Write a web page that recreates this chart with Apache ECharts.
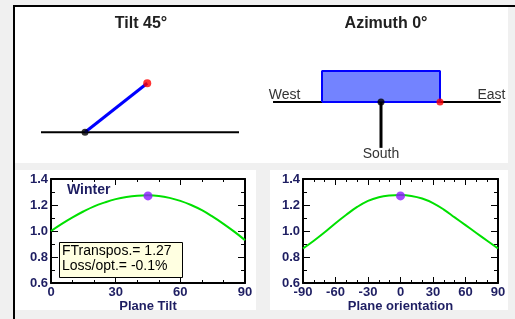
<!DOCTYPE html>
<html><head><meta charset="utf-8">
<script src="https://cdn.jsdelivr.net/npm/echarts@6/dist/echarts.min.js"></script>
<style>html,body{margin:0;padding:0;background:#f0f0f0;}#c{width:515px;height:319px;}</style>
</head><body><div id="c"></div>
<script>
// ---- data ----
const tiltDeg = [0,5,10,15,20,25,30,35,40,45,50,55,60,65,70,75,80,85,90];
const tiltFT  = [1.00,1.055,1.105,1.15,1.19,1.22,1.245,1.262,1.272,1.275,1.27,1.255,1.232,1.20,1.16,1.11,1.055,0.995,0.93];
const orientDeg = [-90,-80,-70,-60,-50,-40,-30,-20,-10,0,10,20,30,40,50,60,70,80,90];
const orientFT  = [0.865,0.925,0.99,1.06,1.125,1.185,1.232,1.26,1.273,1.277,1.27,1.25,1.215,1.165,1.105,1.045,0.985,0.925,0.865];
const tiltOpt = [45, 1.27];
const orientOpt = [0, 1.27];
const tiltTicks = [0,30,60,90];
const orientTicks = [-90,-60,-30,0,30,60,90];
const ftTicks = [0.6,0.8,1.0,1.2,1.4];
const tiltAngle = 45;
const azimuth = 0;
const season = 'Winter';
const fTranspos = '1.27';
const lossOpt = '-0.1%';
// diagram geometry (unit lengths)
const groundTilt = [[-0.5,0],[1.75,0]];
const groundAz = [[-1.83,0],[2.03,0]];
const southLine = [[0,0],[0,-1.48]];
const panelHalfWidth = 1, panelDepth = 1;

const rad = tiltAngle*Math.PI/180;
const panelTilt = [[0,0],[Math.cos(rad),Math.sin(rad)]];
const panelRect = [[-panelHalfWidth,0],[-panelHalfWidth,panelDepth],[panelHalfWidth,panelDepth],[panelHalfWidth,0],[-panelHalfWidth,0]];

const navy = '#1e1e62';
const FONT = '"Liberation Sans", Arial, sans-serif';

function plotX(idx, min, max, ticks, name, top) {
  return {
    type:'value', gridIndex: idx, min: min, max: max, interval: 30,
    position: top ? 'top' : 'bottom',
    name: top ? '' : name, nameLocation:'middle', nameGap: 16,
    nameTextStyle:{color:navy, fontSize:13, fontWeight:'bold', fontFamily:FONT},
    axisLine:{show:true, onZero:false, lineStyle:{color:'#000', width:2}},
    axisTick:{show:true, inside:true, length:6, lineStyle:{color:'#000', width:1}},
    minorTick:{show:true, splitNumber:3, length:3, lineStyle:{color:'#000', width:1}},
    axisLabel:{show:!top, margin:3, color:navy, fontSize:13, fontWeight:'bold', fontFamily:FONT,
      customValues: ticks},
    splitLine:{show:false}, minorSplitLine:{show:false}
  };
}
function plotY(idx, right) {
  return {
    type:'value', gridIndex: idx, min: 0.6, max: 1.4, interval: 0.2,
    position: right ? 'right' : 'left',
    axisLine:{show:true, onZero:false, lineStyle:{color:'#000', width:2}},
    axisTick:{show:true, inside:true, length:7, lineStyle:{color:'#000', width:1}},
    minorTick:{show:true, splitNumber:2, length:4, lineStyle:{color:'#000', width:1}},
    axisLabel:{show:!right, margin:3, color:navy, fontSize:13, fontWeight:'bold', fontFamily:FONT,
      formatter: v => v.toFixed(1)},
    splitLine:{show:false}, minorSplitLine:{show:false}
  };
}
function hiddenAxis(idx, min, max) {
  return {type:'value', gridIndex: idx, min:min, max:max, show:false, splitLine:{show:false}};
}

const chart = echarts.init(document.getElementById('c'), null, {renderer:'canvas'});
chart.setOption({
  animation:false,
  backgroundColor:'transparent',
  grid:[
    {left:41, width:198, top:63, height:69.3},           // tilt diagram
    {left:263, right:4.2, top:55.5, bottom:155},          // azimuth diagram
    {left:51, right:270, top:179, bottom:36},             // tilt plot
    {left:303, right:17, top:179, bottom:36}              // orientation plot
  ],
  xAxis:[
    hiddenAxis(0,-0.5,1.75),
    hiddenAxis(1,-2,2.2),
    plotX(2,0,90,tiltTicks,'Plane Tilt',false),
    plotX(2,0,90,tiltTicks,'',true),
    plotX(3,-90,90,orientTicks,'Plane orientation',false),
    plotX(3,-90,90,orientTicks,'',true)
  ],
  yAxis:[
    hiddenAxis(0,0,1),
    hiddenAxis(1,-2,1.5),
    plotY(2,false), plotY(2,true),
    plotY(3,false), plotY(3,true)
  ],
  graphic:[
    {type:'rect', z:-10, shape:{x:15,y:7,width:493,height:156}, style:{fill:'#fff'}},
    {type:'rect', z:-10, shape:{x:15,y:170,width:241,height:140}, style:{fill:'#fff'}},
    {type:'rect', z:-10, shape:{x:270,y:170,width:238,height:140}, style:{fill:'#fff'}},
    {type:'rect', z:-9, shape:{x:13,y:5,width:2,height:314}, style:{fill:'#000'}},
    {type:'rect', z:-9, shape:{x:13,y:5,width:502,height:2}, style:{fill:'#000'}},
    {type:'text', z:50, style:{text:'Tilt ' + tiltAngle + '°', x:141, y:24, align:'center', verticalAlign:'middle', font:'bold 16px ' + FONT, fill:'#202020'}},
    {type:'text', z:50, style:{text:'Azimuth ' + azimuth + '°', x:386, y:24, align:'center', verticalAlign:'middle', font:'bold 16px ' + FONT, fill:'#202020'}},
    {type:'text', z:50, style:{text:'West', x:284.5, y:95, align:'center', verticalAlign:'middle', font:'14px ' + FONT, fill:'#333'}},
    {type:'text', z:50, style:{text:'East', x:491.5, y:95, align:'center', verticalAlign:'middle', font:'14px ' + FONT, fill:'#333'}},
    {type:'text', z:50, style:{text:'South', x:381, y:154, align:'center', verticalAlign:'middle', font:'14px ' + FONT, fill:'#333'}},
    {type:'text', z:50, style:{text:season, x:67, y:190, align:'left', verticalAlign:'middle', font:'bold 14px ' + FONT, fill:navy}},
    {type:'rect', z:50, shape:{x:59.5,y:242.5,width:123,height:35}, style:{fill:'#ffffe1', stroke:'#000', lineWidth:1}},
    {type:'text', z:51, style:{text:'FTranspos.= ' + fTranspos, x:62, y:251, align:'left', verticalAlign:'middle', font:'14px ' + FONT, fill:'#000'}},
    {type:'text', z:51, style:{text:'Loss/opt.= ' + lossOpt, x:62, y:266, align:'left', verticalAlign:'middle', font:'14px ' + FONT, fill:'#000'}}
  ],
  series:[
    // tilt diagram
    {type:'line', xAxisIndex:0, yAxisIndex:0, data:groundTilt, symbol:'none', clip:false,
      lineStyle:{color:'#000', width:2}, z:3},
    {type:'line', xAxisIndex:0, yAxisIndex:0, data:panelTilt, symbol:'none', clip:false,
      lineStyle:{color:'#0000ff', width:3}, z:4},
    {type:'scatter', xAxisIndex:0, yAxisIndex:0, data:[panelTilt[0]], symbolSize:7, clip:false,
      itemStyle:{color:'#000'}, z:5},
    {type:'scatter', xAxisIndex:0, yAxisIndex:0, data:[panelTilt[1]], symbolSize:8, clip:false,
      itemStyle:{color:'#ff0000'}, z:5},
    // azimuth diagram
    {type:'line', xAxisIndex:1, yAxisIndex:1, data:groundAz, symbol:'none', clip:false,
      lineStyle:{color:'#000', width:2}, z:3},
    {type:'line', xAxisIndex:1, yAxisIndex:1, data:panelRect, symbol:'none', clip:false,
      lineStyle:{color:'#0000ff', width:2}, areaStyle:{color:'#7383ff', opacity:1, origin:0}, z:4},
    {type:'line', xAxisIndex:1, yAxisIndex:1, data:southLine, symbol:'none', clip:false,
      lineStyle:{color:'#000', width:3}, z:5},
    {type:'scatter', xAxisIndex:1, yAxisIndex:1, data:[[0,0]], symbolSize:7, clip:false,
      itemStyle:{color:'#000'}, z:6},
    {type:'scatter', xAxisIndex:1, yAxisIndex:1, data:[[panelHalfWidth,0]], symbolSize:7, clip:false,
      itemStyle:{color:'#ff0000'}, z:6},
    // plots
    {type:'line', xAxisIndex:2, yAxisIndex:2, data:tiltDeg.map((d,i)=>[d,tiltFT[i]]), symbol:'none', smooth:0.4,
      lineStyle:{color:'#00e000', width:2}, z:3},
    {type:'scatter', xAxisIndex:2, yAxisIndex:2, data:[tiltOpt], symbolSize:9, clip:false,
      itemStyle:{color:'#8c1aff'}, z:4},
    {type:'line', xAxisIndex:4, yAxisIndex:4, data:orientDeg.map((d,i)=>[d,orientFT[i]]), symbol:'none', smooth:0.4,
      lineStyle:{color:'#00e000', width:2}, z:3},
    {type:'scatter', xAxisIndex:4, yAxisIndex:4, data:[orientOpt], symbolSize:9, clip:false,
      itemStyle:{color:'#8c1aff'}, z:4}
  ]
});
</script>
</body></html>
